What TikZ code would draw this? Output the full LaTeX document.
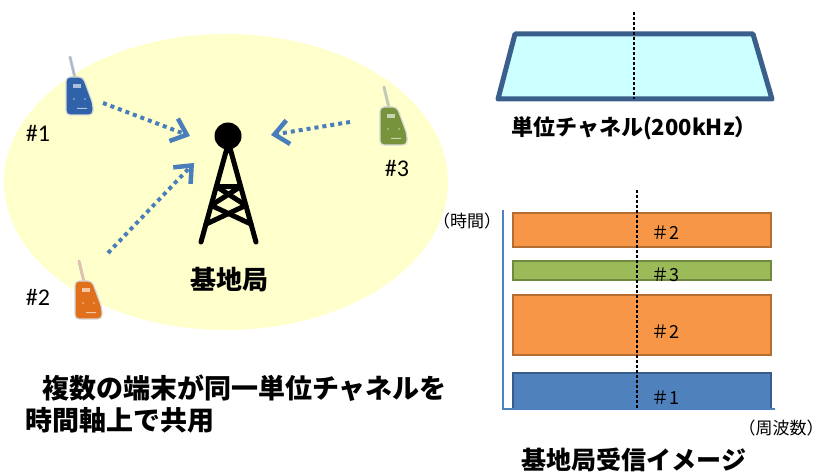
\documentclass[tikz,border=0pt]{standalone}
\usepackage{fontspec}
\setmainfont{Carlito}
\newfontfamily\jp{Noto Sans CJK JP}
\usetikzlibrary{arrows.meta,calc}
\definecolor{cellyellow}{HTML}{FFFFCC}
\definecolor{sigblue}{HTML}{4A7EBB}
\definecolor{chanfill}{HTML}{CCFFFF}
\definecolor{chanedge}{HTML}{3A5F8B}
\definecolor{slotorange}{HTML}{F79646}
\definecolor{edgeorange}{HTML}{B66D31}
\definecolor{slotgreen}{HTML}{9BBB59}
\definecolor{edgegreen}{HTML}{71893F}
\definecolor{slotblue}{HTML}{4F81BD}
\definecolor{edgeblue}{HTML}{385D8A}
\definecolor{radioblue}{HTML}{2F62A8}
\definecolor{radioorange}{HTML}{E0701C}
\definecolor{radiogreen}{HTML}{77933C}
\begin{document}
\begin{tikzpicture}[x=1pt,y=-1pt,
    signal/.style={draw=sigblue,line width=4pt,dash pattern=on 4pt off 4pt,-{Straight Barb[length=14pt,width=24pt,line width=4.5pt]}},
    mast/.style={line width=5pt,line cap=round,line join=round},
    slot/.style={line width=1.5pt},
    bigjp/.style={font=\jp\bfseries\fontsize{#1}{#1}\selectfont,inner sep=0pt}]
    \useasboundingbox (0,0) rectangle (825,473);
    %% cell
    \fill[cellyellow] (226,182) ellipse [x radius=222,y radius=148];
    %% terminals
    \foreach \px/\py/\col in {79/96/radioblue,88/300/radioorange,393/126/radiogreen} {
        \draw[gray!45,line width=3pt,line cap=round] (\px-9,\py-39) -- (\px-4,\py-18);
        \draw[\col!45,line width=1.3pt,line cap=round] (\px-9,\py-39) -- (\px-4,\py-18);
        \draw[gray!30,line width=1.2pt,fill=\col,rounded corners=4pt] (\px-13,\py-19) -- (\px+4,\py-19) -- (\px+14,\py+8) -- (\px+14,\py+19) -- (\px-13,\py+19) -- cycle;
        \fill[\col!40!white] (\px-6,\py-12) rectangle (\px+2,\py-8);
        \fill[\col!40!white] (\px-5,\py+3) circle (0.9pt) (\px+6,\py+3) circle (0.9pt) (\px-2,\py+12) rectangle (\px+8,\py+13);
    }
    \node[font=\fontsize{24}{24}\selectfont] (t1) at (38,133) {\#1};
    \node[font=\fontsize{24}{24}\selectfont] (t2) at (38,297) {\#2};
    \node[font=\fontsize{24}{24}\selectfont] (t3) at (397,168) {\#3};
    %% base station
    \node[circle,fill=black,inner sep=0pt,minimum size=27pt] (beacon) at (228,136) {};
    \coordinate (lt) at (227,148);
    \coordinate (rt) at (230,148);
    \coordinate (lb) at (201,242);
    \coordinate (rb) at (256,242);
    \draw[mast] (lt) -- (lb) (rt) -- (rb);
    \draw[mast] ($(lt)!0.41!(lb)$) -- ($(rt)!0.41!(rb)$) -- ($(lt)!0.61!(lb)$) -- ($(rt)!0.81!(rb)$);
    \draw[mast] ($(lt)!0.41!(lb)$) -- ($(rt)!0.61!(rb)$) -- ($(lt)!0.81!(lb)$);
    \node[bigjp=26] (bs) at (229,280) {基地局};
    %% uplinks
    \coordinate (s1) at (103,103); \coordinate (e1) at (190,136);
    \coordinate (s2) at (108,253); \coordinate (e2) at (194,163);
    \coordinate (s3) at (350,122); \coordinate (e3) at (271,135);
    \draw[signal] (s1) -- (e1);
    \draw[signal] (s2) -- (e2);
    \draw[signal] (s3) -- (e3);
    \node[bigjp=27,anchor=west] (cap1) at (42,388) {複数の端末が同一単位チャネルを};
    \node[bigjp=27,anchor=west] (cap2) at (25,420) {時間軸上で共用};
    %% unit channel
    \draw[line width=5pt,draw=chanedge,fill=chanfill,line join=round] (515,34) -- (753,34) -- (772,99) -- (498,99) -- cycle;
    \draw[dash pattern=on 3pt off 2pt,line width=1.2pt] (634,12) -- (634,99);
    \node[bigjp=22] (chan) at (634,128) {単位チャネル(200kHz）};
    %% received slots
    \draw[slot,fill=slotorange,draw=edgeorange] (513,213) rectangle (771,247);
    \draw[slot,fill=slotgreen,draw=edgegreen] (513,261) rectangle (771,280);
    \draw[slot,fill=slotorange,draw=edgeorange] (513,295) rectangle (771,355);
    \draw[slot,fill=slotblue,draw=edgeblue] (513,373) rectangle (771,409);
    \coordinate (org) at (503,409);
    \coordinate (tmax) at (503,210);
    \coordinate (fmax) at (775,409);
    \draw[slotblue,line width=1.5pt] (tmax) -- (org) -- (fmax);
    \draw[dash pattern=on 3pt off 2pt,line width=1.2pt] (637,190) -- (637,409);
    \foreach \ly/\lab [count=\i] in {233/2,275/3,332/2,398/1}
        \node[font=\jp\fontsize{18}{18}\selectfont,inner sep=0pt] (u\i) at (665,\ly) {＃\lab};
    \node[font=\jp\fontsize{17}{17}\selectfont,inner sep=0pt] (tlab) at (467,221) {（時間）};
    \node[font=\jp\fontsize{17}{17}\selectfont,inner sep=0pt] (flab) at (781,428) {（周波数）};
    \node[bigjp=25] (rx) at (634,460) {基地局受信イメージ};
\end{tikzpicture}
\end{document}
